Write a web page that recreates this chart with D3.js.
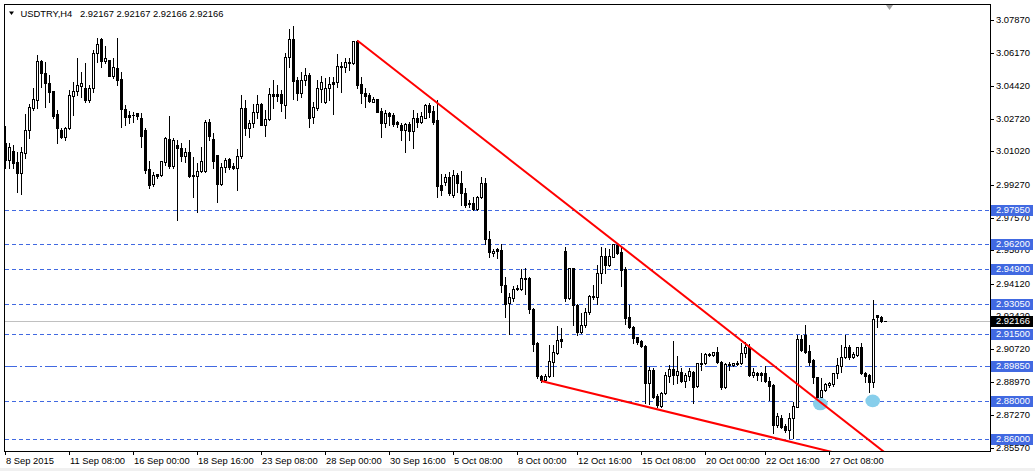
<!DOCTYPE html>
<html><head><meta charset="utf-8">
<script src="https://cdn.jsdelivr.net/npm/d3@7"></script>
<style>
html,body{margin:0;padding:0;background:#fff;overflow:hidden}
svg{display:block}
text{font-family:"Liberation Sans",Arial,sans-serif;font-size:9.4px;fill:#000}
</style></head><body>
<svg id="c" width="1035" height="471"></svg>
<script>
const symbolTitle = "USDTRY,H4";
const lastQuote = ["2.92167","2.92167","2.92166","2.92166"];

const opens = [
3.0146,3.0057,3.0104,3.0047,2.9989,3.0094,3.0213,3.0328,3.0370,3.0573,
3.0511,3.0459,3.0417,3.0297,3.0213,3.0177,3.0224,3.0391,3.0417,3.0443,
3.0432,3.0370,3.0432,3.0615,3.0688,3.0573,3.0578,3.0495,3.0537,3.0479,
3.0323,3.0292,3.0290,3.0302,3.0276,3.0213,3.0010,2.9932,2.9984,2.9979,
3.0047,3.0167,3.0026,3.0135,3.0120,3.0078,3.0099,2.9979,2.9974,3.0000,
3.0000,3.0255,3.0167,3.0083,2.9932,3.0020,3.0062,3.0026,3.0015,3.0078,
3.0328,3.0224,3.0250,3.0307,3.0349,3.0240,3.0271,3.0401,3.0401,3.0401,
3.0344,3.0594,3.0688,3.0474,3.0406,3.0474,3.0500,3.0281,3.0328,3.0427,
3.0360,3.0432,3.0464,3.0464,3.0542,3.0542,3.0568,3.0563,3.0678,3.0453,
3.0406,3.0396,3.0360,3.0375,3.0313,3.0250,3.0302,3.0292,3.0255,3.0240,
3.0213,3.0245,3.0208,3.0276,3.0255,3.0276,3.0344,3.0313,3.0266,2.9927,
2.9942,2.9969,2.9875,2.9979,2.9937,2.9885,2.9833,2.9833,2.9802,2.9864,
2.9937,2.9645,2.9572,2.9593,2.9588,2.9405,2.9312,2.9338,2.9390,2.9384,
2.9442,2.9442,2.9280,2.9103,2.8931,2.8910,2.8931,2.9004,2.9051,2.9124,
2.9583,2.9338,2.9494,2.9301,2.9160,2.9197,2.9264,2.9343,2.9343,2.9468,
2.9556,2.9510,2.9551,2.9614,2.9577,2.9489,2.9238,2.9186,2.9134,2.9113,
2.9087,2.8894,2.8962,2.8827,2.8774,2.8842,2.8931,2.8967,2.8936,2.8952,
2.8905,2.8931,2.8952,2.8879,2.8993,2.8999,2.9041,2.9041,2.9056,2.9004,
2.8873,2.8993,2.8988,2.8999,2.8999,2.9051,2.9082,2.8936,2.8947,2.8947,
2.8947,2.8905,2.8884,2.8675,2.8712,2.8670,2.8649,2.8712,2.8769,2.9124,
2.9145,2.9061,2.9014,2.8926,2.8821,2.8858,2.8884,2.8889,2.8947,2.8983,
2.9030,2.9082,2.9030,2.9041,2.9082,2.8947,2.8936,2.8900,2.9249,2.9238,
2.92167];

const highs = [
3.0234,3.0146,3.0135,3.0099,3.0125,3.0297,3.0349,3.0432,3.0604,3.0578,
3.0568,3.0500,3.0417,3.0318,3.0224,3.0229,3.0422,3.0464,3.0589,3.0516,
3.0563,3.0448,3.0631,3.0693,3.0693,3.0651,3.0580,3.0589,3.0693,3.0516,
3.0344,3.0313,3.0307,3.0302,3.0302,3.0224,3.0052,2.9995,2.9985,3.0052,
3.0177,3.0286,3.0172,3.0161,3.0146,3.0120,3.0161,3.0073,3.0041,3.0125,
3.0266,3.0271,3.0198,3.0083,3.0041,3.0068,3.0068,3.0041,3.0114,3.0396,
3.0370,3.0266,3.0349,3.0396,3.0352,3.0318,3.0432,3.0474,3.0448,3.0422,
3.0615,3.0740,3.0756,3.0490,3.0516,3.0537,3.0511,3.0360,3.0474,3.0495,
3.0485,3.0490,3.0490,3.0610,3.0568,3.0589,3.0589,3.0680,3.0683,3.0490,
3.0432,3.0406,3.0386,3.0377,3.0328,3.0318,3.0307,3.0302,3.0260,3.0250,
3.0250,3.0255,3.0318,3.0302,3.0307,3.0349,3.0354,3.0339,3.0370,2.9984,
2.9984,2.9995,3.0005,2.9989,3.0000,2.9911,2.9849,2.9864,2.9869,2.9969,
2.9963,2.9687,2.9593,2.9598,2.9619,2.9447,2.9364,2.9400,2.9405,2.9489,
2.9494,2.9447,2.9285,2.9108,2.8936,2.8941,2.9092,2.9092,2.9192,2.9181,
2.9603,2.9494,2.9494,2.9306,2.9259,2.9285,2.9353,2.9405,2.9510,2.9603,
2.9598,2.9593,2.9619,2.9624,2.9603,2.9499,2.9301,2.9192,2.9134,2.9119,
2.9092,2.8978,2.8973,2.8837,2.8847,2.8952,2.8988,2.9113,2.9035,2.8973,
2.8947,2.8973,2.8957,2.9001,2.9051,2.9051,2.9051,2.9058,2.9082,2.9009,
2.8999,2.9004,2.9001,2.9009,2.9103,2.9108,2.9098,2.8973,2.8952,2.8952,
2.8983,2.8926,2.8889,2.8738,2.8727,2.8681,2.8738,2.8795,2.9145,2.9145,
2.9197,2.9092,2.9019,2.8926,2.8920,2.8894,2.8900,2.8947,2.9025,2.9092,
2.9145,2.9092,2.9056,2.9084,2.9103,2.8952,2.8941,2.9327,2.9250,2.9244,
2.92167];

const lows = [
3.0015,3.0015,3.0015,2.9890,2.9880,3.0068,3.0172,3.0318,3.0328,3.0438,
3.0333,3.0360,3.0276,3.0146,3.0172,3.0161,3.0220,3.0292,3.0396,3.0386,
3.0360,3.0360,3.0412,3.0568,3.0542,3.0563,3.0493,3.0485,3.0448,3.0229,
3.0240,3.0250,3.0255,3.0271,3.0125,2.9989,2.9911,2.9922,2.9963,2.9974,
3.0031,3.0015,3.0015,2.9744,3.0052,3.0047,2.9968,2.9864,2.9786,2.9995,
2.9995,3.0161,3.0015,2.9838,2.9927,2.9995,3.0010,3.0010,2.9901,3.0068,
3.0187,3.0177,3.0229,3.0276,3.0238,3.0182,3.0266,3.0328,3.0365,3.0313,
3.0276,3.0542,3.0375,3.0370,3.0386,3.0448,3.0229,3.0250,3.0318,3.0360,
3.0354,3.0370,3.0297,3.0438,3.0412,3.0516,3.0526,3.0560,3.0432,3.0354,
3.0333,3.0360,3.0358,3.0305,3.0177,3.0229,3.0240,3.0234,3.0229,3.0161,
3.0099,3.0161,3.0120,3.0229,3.0250,3.0274,3.0281,3.0245,2.9864,2.9875,
2.9927,2.9875,2.9864,2.9890,2.9822,2.9812,2.9812,2.9796,2.9796,2.9859,
2.9619,2.9551,2.9556,2.9546,2.9369,2.9238,2.9150,2.9322,2.9379,2.9379,
2.9358,2.9259,2.9061,2.8920,2.8900,2.8900,2.8926,2.8931,2.9048,2.9082,
2.9322,2.9333,2.9197,2.9145,2.9155,2.9186,2.9254,2.9332,2.9306,2.9416,
2.9468,2.9505,2.9549,2.9567,2.9400,2.9202,2.9181,2.9103,2.9098,2.9080,
2.8790,2.8785,2.8816,2.8769,2.8769,2.8837,2.8900,2.8889,2.8894,2.8900,
2.8873,2.8910,2.8790,2.8873,2.8962,2.8993,2.9035,2.9035,2.8999,2.8863,
2.8870,2.8962,2.8983,2.8988,2.8993,2.9030,2.8931,2.8926,2.8910,2.8905,
2.8900,2.8806,2.8634,2.8665,2.8662,2.8639,2.8608,2.8608,2.8767,2.9061,
2.9051,2.8988,2.8894,2.8816,2.8816,2.8853,2.8873,2.8879,2.8920,2.8952,
2.9025,2.9019,2.9025,2.9035,2.8941,2.8900,2.8847,2.8873,2.9186,2.9213,
2.92166];

const closes = [
3.0057,3.0125,3.0041,2.9989,3.0099,3.0213,3.0333,3.0375,3.0573,3.0511,
3.0459,3.0412,3.0286,3.0224,3.0177,3.0224,3.0396,3.0417,3.0448,3.0459,
3.0370,3.0432,3.0615,3.0662,3.0573,3.0589,3.0495,3.0542,3.0474,3.0323,
3.0281,3.0281,3.0293,3.0286,3.0182,3.0005,2.9927,2.9979,2.9974,3.0052,
3.0172,3.0026,3.0161,3.0120,3.0078,3.0099,2.9974,2.9974,3.0000,3.0052,
3.0255,3.0182,3.0052,2.9932,3.0020,3.0057,3.0020,3.0015,3.0078,3.0328,
3.0224,3.0250,3.0307,3.0349,3.0240,3.0271,3.0401,3.0391,3.0391,3.0354,
3.0594,3.0688,3.0469,3.0406,3.0474,3.0500,3.0276,3.0333,3.0432,3.0464,
3.0432,3.0453,3.0453,3.0547,3.0547,3.0568,3.0563,3.0678,3.0448,3.0406,
3.0391,3.0365,3.0375,3.0307,3.0250,3.0302,3.0286,3.0245,3.0245,3.0213,
3.0245,3.0208,3.0276,3.0255,3.0286,3.0344,3.0307,3.0255,2.9922,2.9901,
2.9969,2.9885,2.9979,2.9937,2.9885,2.9822,2.9828,2.9802,2.9864,2.9937,
2.9645,2.9577,2.9583,2.9583,2.9405,2.9306,2.9343,2.9384,2.9384,2.9442,
2.9437,2.9280,2.9098,2.8931,2.8910,2.8931,2.9009,2.9056,2.9119,2.9113,
2.9338,2.9494,2.9301,2.9160,2.9197,2.9264,2.9348,2.9348,2.9468,2.9556,
2.9510,2.9556,2.9619,2.9572,2.9484,2.9233,2.9186,2.9129,2.9108,2.9085,
2.8894,2.8962,2.8821,2.8780,2.8842,2.8936,2.8967,2.8936,2.8957,2.8905,
2.8936,2.8957,2.8873,2.8999,2.8999,2.9046,2.9046,2.9056,2.9004,2.8873,
2.8993,2.8988,2.8999,2.8993,2.9051,2.9082,2.8936,2.8952,2.8936,2.8936,
2.8905,2.8879,2.8675,2.8722,2.8665,2.8649,2.8712,2.8774,2.9124,2.9066,
2.9056,2.9004,2.8926,2.8821,2.8858,2.8889,2.8894,2.8947,2.8988,2.9030,
2.9082,2.9030,2.9046,2.9082,2.8947,2.8931,2.8900,2.9228,2.9238,2.9218,
2.92166];

const timeTickBars = [0,16,32,48,64,80,96,112,128,143,159,175,190,206];
const timeTickLabels = ["8 Sep 2015","11 Sep 08:00","16 Sep 00:00","18 Sep 16:00","23 Sep 08:00","28 Sep 00:00","30 Sep 16:00","5 Oct 08:00","8 Oct 00:00","12 Oct 16:00","15 Oct 08:00","20 Oct 00:00","22 Oct 16:00","27 Oct 08:00"];
const priceTicks = [3.07870,3.06170,3.04420,3.02720,3.01020,2.99270,2.97570,2.95870,2.94120,2.92420,2.90720,2.88970,2.87270,2.85570];
const levelPrices = [2.97950,2.96200,2.94900,2.93050,2.91500,2.88000,2.86000];
const dashDotLevel = 2.89850;
const lastPrice = 2.92166;
const upperTrend = [[88,3.0680],[220,2.8530]];
const lowerTrend = [[134,2.8905],[206,2.8538]];
const markerBars = [203.75,216.85];
const markerPrices = [2.8785,2.8801];

const svg = d3.select("#c");
const L = 4, R = 990, T = 4, B = 451;
const x = d3.scaleLinear().domain([0, closes.length-1]).range([5.3, 885.3]);
const y = d3.scaleLinear().domain([2.8557, 3.0787]).range([447.7, 20]);
const py = p => Math.round(y(p));

svg.append("rect").attr("x",0).attr("y",0).attr("width",1035).attr("height",471).attr("fill","#fff");
svg.append("rect").attr("x",0).attr("y",468).attr("width",1035).attr("height",3).attr("fill","#f0f0f0");

svg.append("defs").append("clipPath").attr("id","plot")
  .append("rect").attr("x",L+1).attr("y",T+1).attr("width",R-L-1).attr("height",B-T-1);

// level lines
const gl = svg.append("g");
gl.append("line").attr("x1",L).attr("x2",R).attr("y1",py(lastPrice)+0.5).attr("y2",py(lastPrice)+0.5)
  .attr("stroke","#c0c0c0").attr("stroke-width",1);
levelPrices.forEach(p=>{
  gl.append("line").attr("x1",L+1).attr("x2",R).attr("y1",py(p)+0.5).attr("y2",py(p)+0.5)
    .attr("stroke","#4169e1").attr("stroke-width",1).attr("stroke-dasharray","4,3");
});
gl.append("line").attr("x1",L+1).attr("x2",R).attr("y1",py(dashDotLevel)+0.5).attr("y2",py(dashDotLevel)+0.5)
  .attr("stroke","#4169e1").attr("stroke-width",1).attr("stroke-dasharray","12,3,2,3");

// candles
const gc = svg.append("g");
closes.forEach((c,i)=>{
  const o = opens[i], h = highs[i], l = lows[i];
  const px = Math.round(x(i));
  const yh = py(h), yl = py(l);
  gc.append("rect").attr("x",px).attr("y",yh).attr("width",1).attr("height",Math.max(1,yl-yh+1)).attr("fill","#000");
  const top = py(Math.max(o,c)), bot = py(Math.min(o,c));
  if (c >= o) {
    if (bot - top >= 2) {
      gc.append("rect").attr("x",px-0.5).attr("y",top+0.5).attr("width",2).attr("height",bot-top)
        .attr("fill","#fff").attr("stroke","#000").attr("stroke-width",1);
    } else {
      gc.append("rect").attr("x",px-1).attr("y",top).attr("width",3).attr("height",bot-top+1).attr("fill","#000");
    }
  } else {
    gc.append("rect").attr("x",px-1).attr("y",top).attr("width",3).attr("height",bot-top+1).attr("fill","#000");
  }
});

// markers
const gm = svg.append("g").attr("clip-path","url(#plot)");
markerBars.forEach((b,k)=>{
  gm.append("ellipse").attr("cx",x(b)).attr("cy",y(markerPrices[k])).attr("rx",7.3).attr("ry",6.3)
    .attr("fill","#87ceeb");
});

// trend lines (rays to the right)
const gt = svg.append("g").attr("clip-path","url(#plot)");
[upperTrend, lowerTrend].forEach(t=>{
  const x1 = x(t[0][0]), y1 = y(t[0][1]), x2 = x(t[1][0]), y2 = y(t[1][1]);
  const s = (y2-y1)/(x2-x1);
  gt.append("line").attr("x1",x1).attr("y1",y1).attr("x2",R).attr("y2",y1+(R-x1)*s)
    .attr("stroke","#ff0000").attr("stroke-width",2);
});

// frame
const gf = svg.append("g").attr("stroke","#000").attr("stroke-width",1);
gf.append("line").attr("x1",L+0.5).attr("x2",L+0.5).attr("y1",T).attr("y2",B+1);
gf.append("line").attr("x1",L).attr("x2",R+1).attr("y1",B+0.5).attr("y2",B+0.5);
gf.append("line").attr("x1",R+0.5).attr("x2",R+0.5).attr("y1",T).attr("y2",B+1);
gf.append("line").attr("x1",L).attr("x2",R+1).attr("y1",T+0.5).attr("y2",T+0.5);

// price axis
const ga = svg.append("g");
priceTicks.forEach(p=>{
  const yy = py(p);
  ga.append("line").attr("x1",R).attr("x2",R+4).attr("y1",yy+0.5).attr("y2",yy+0.5).attr("stroke","#000");
  ga.append("text").attr("x",996).attr("y",yy).attr("dy","0.36em").text(p.toFixed(5));
});
levelPrices.concat([dashDotLevel]).forEach(p=>{
  const yy = py(p);
  ga.append("rect").attr("x",991).attr("y",yy-5).attr("width",42).attr("height",11).attr("fill","#4169e1");
  ga.append("text").attr("x",996).attr("y",yy).attr("dy","0.36em").style("fill","#fff").text(p.toFixed(5));
});
{
  const yy = py(lastPrice);
  ga.append("rect").attr("x",991).attr("y",yy-5).attr("width",42).attr("height",11).attr("fill","#000");
  ga.append("text").attr("x",996).attr("y",yy).attr("dy","0.36em").style("fill","#fff").text(lastPrice.toFixed(5));
}

// time axis
const gx = svg.append("g");
timeTickBars.forEach((b,k)=>{
  const xx = Math.round(x(b));
  gx.append("line").attr("x1",xx+0.5).attr("x2",xx+0.5).attr("y1",B).attr("y2",B+4).attr("stroke","#000");
  gx.append("text").attr("x",xx+1).attr("y",464).text(timeTickLabels[k]);
});

// title
svg.append("path").attr("d","M9,11.5 L14,11.5 L11.5,15 Z").attr("fill","#000");
svg.append("text").attr("x",20.5).attr("y",16.5).text(symbolTitle);
svg.append("text").attr("x",80).attr("y",16.5).text(lastQuote.join(" "));
// chart shift marker
svg.append("path").attr("d","M886,5 L893,5 L889.5,10 Z").attr("fill","#a0a0a0");
</script>
</body></html>
